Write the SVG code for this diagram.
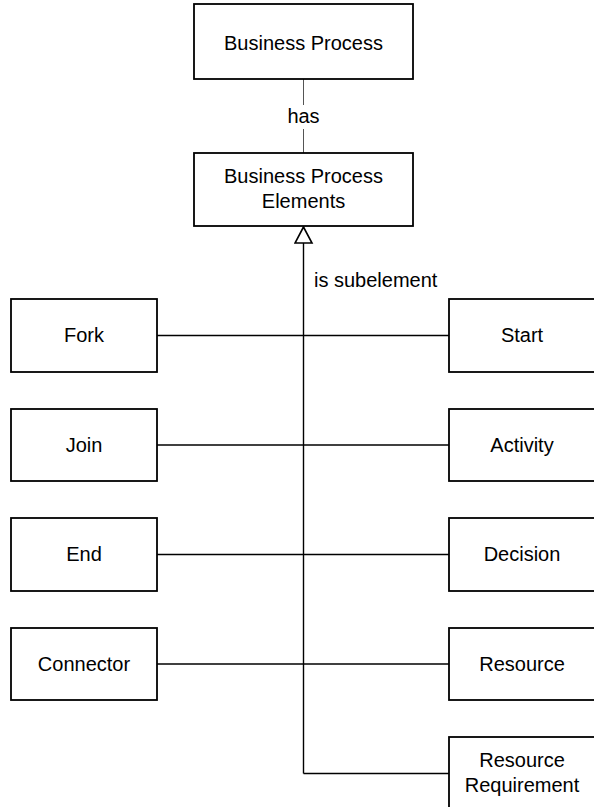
<svg xmlns="http://www.w3.org/2000/svg" width="594" height="807" viewBox="0 0 594 807">
  <style>
    .box { fill: #ffffff; stroke: #000000; stroke-width: 1.8; }
    .lbl { font-family: "Liberation Sans", Arial, sans-serif; font-size: 20px; fill: #000000; text-anchor: middle; }
    .wire { fill: none; stroke: #000000; stroke-width: 1.4; }
    .thin { fill: none; stroke: #555555; stroke-width: 1; }
  </style>
  <defs>
    <!-- hollow generalization triangle; tip at the path end -->
    <marker id="hollowTri" markerWidth="20" markerHeight="20" refX="17" refY="10" orient="auto" markerUnits="userSpaceOnUse" viewBox="0 0 20 20">
      <path d="M17 10 L1 1.5 L1 18.5 Z" fill="#ffffff" stroke="#000000" stroke-width="1.6" stroke-linejoin="miter"/>
    </marker>
  </defs>
  <rect width="594" height="807" fill="#ffffff"/>

  <g id="connectors">
    <!-- composition link between process and its elements -->
    <line class="thin" x1="303.5" y1="79" x2="303.5" y2="105"/>
    <line class="thin" x1="303.5" y1="129" x2="303.5" y2="153"/>
    <text class="lbl" x="303.5" y="123">has</text>
    <!-- generalization trunk -->
    <path class="wire" d="M303.5 773.5 L303.5 227" marker-end="url(#hollowTri)"/>
    <text class="lbl" x="314" y="287" style="text-anchor:start">is subelement</text>
    <!-- branches -->
    <line class="wire" x1="157" y1="335.5" x2="449" y2="335.5"/>
    <line class="wire" x1="157" y1="445" x2="449" y2="445"/>
    <line class="wire" x1="157" y1="554.5" x2="449" y2="554.5"/>
    <line class="wire" x1="157" y1="664" x2="449" y2="664"/>
    <line class="wire" x1="303.5" y1="773.5" x2="449" y2="773.5"/>
  </g>

  <g id="business-process">
    <rect class="box" x="194" y="4" width="219" height="75"/>
    <text class="lbl" x="303.5" y="50">Business Process</text>
  </g>
  <g id="business-process-elements">
    <rect class="box" x="194" y="153" width="219" height="73"/>
    <text class="lbl" x="303.5" y="183">Business Process</text>
    <text class="lbl" x="303.5" y="208">Elements</text>
  </g>

  <g id="fork">
    <rect class="box" x="11" y="299" width="146" height="73"/>
    <text class="lbl" x="84" y="342">Fork</text>
  </g>
  <g id="join">
    <rect class="box" x="11" y="409" width="146" height="72"/>
    <text class="lbl" x="84" y="452">Join</text>
  </g>
  <g id="end">
    <rect class="box" x="11" y="518" width="146" height="73"/>
    <text class="lbl" x="84" y="561">End</text>
  </g>
  <g id="connector">
    <rect class="box" x="11" y="628" width="146" height="72"/>
    <text class="lbl" x="84" y="671">Connector</text>
  </g>

  <g id="start">
    <rect class="box" x="449" y="299" width="146" height="73"/>
    <text class="lbl" x="522" y="342">Start</text>
  </g>
  <g id="activity">
    <rect class="box" x="449" y="409" width="146" height="72"/>
    <text class="lbl" x="522" y="452">Activity</text>
  </g>
  <g id="decision">
    <rect class="box" x="449" y="518" width="146" height="73"/>
    <text class="lbl" x="522" y="561">Decision</text>
  </g>
  <g id="resource">
    <rect class="box" x="449" y="628" width="146" height="72"/>
    <text class="lbl" x="522" y="671">Resource</text>
  </g>
  <g id="resource-requirement">
    <rect class="box" x="449" y="737" width="146" height="73"/>
    <text class="lbl" x="522" y="767">Resource</text>
    <text class="lbl" x="522" y="792">Requirement</text>
  </g>
</svg>
